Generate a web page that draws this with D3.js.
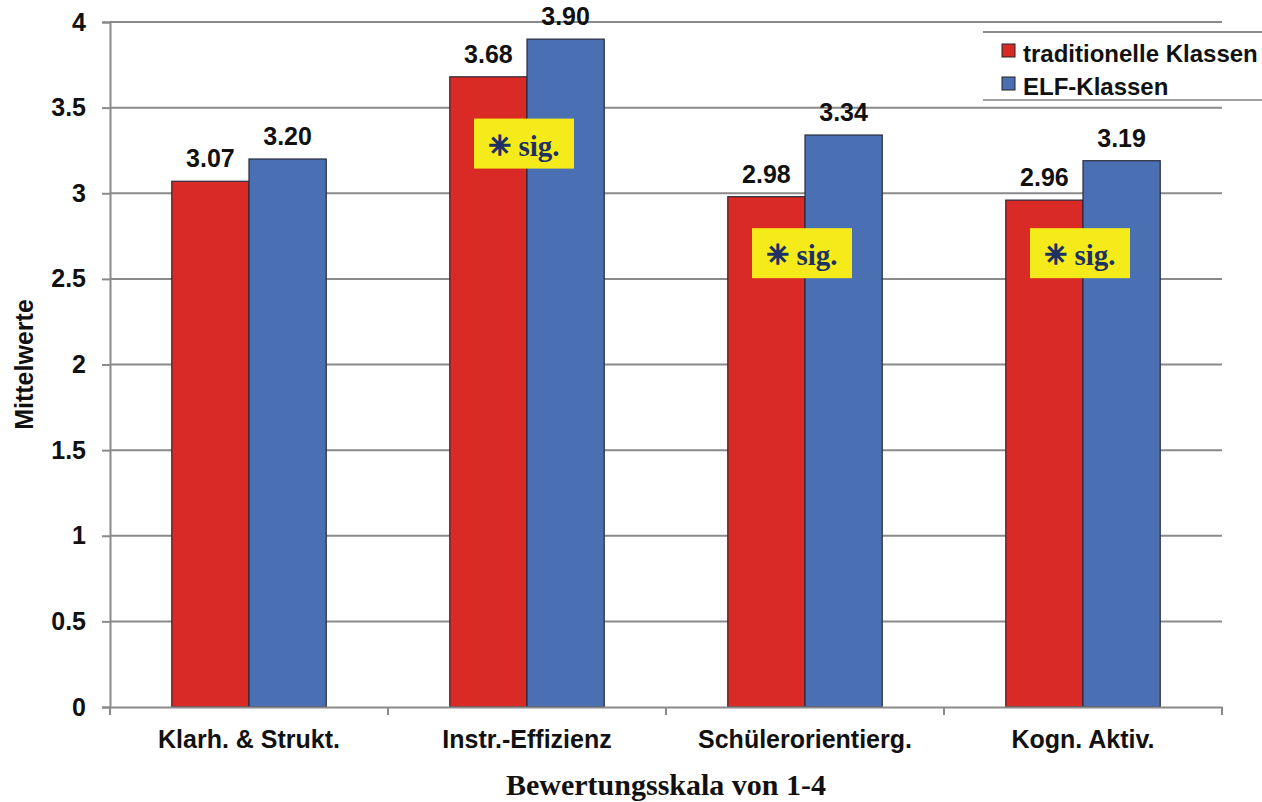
<!DOCTYPE html>
<html>
<head>
<meta charset="utf-8">
<script src="https://cdn.jsdelivr.net/npm/d3@7"></script>
<style>
  html, body { margin: 0; padding: 0; background: #fff; }
  svg { display: block; }
</style>
</head>
<body>
<svg id="chart" width="1262" height="802"></svg>
<script>
// Mean ratings per scale, two groups of classes
const categories = ["Klarh. & Strukt.", "Instr.-Effizienz", "Schülerorientierg.", "Kogn. Aktiv."];
const seriesNames = ["traditionelle Klassen", "ELF-Klassen"];
const traditionalValues = [3.07, 3.68, 2.98, 2.96];
const elfValues = [3.20, 3.90, 3.34, 3.19];
const significant = [false, true, true, true];
const yTicks = [0, 0.5, 1, 1.5, 2, 2.5, 3, 3.5, 4];
const colors = ["#d92a26", "#4a6fb3"];

const svg = d3.select("#chart");
const margin = { left: 110, right: 40, top: 22, bottom: 95 };
const W = 1262, H = 802;
const plotW = W - margin.left - margin.right; // 1112
const plotH = H - margin.top - margin.bottom; // 685

const x = d3.scaleBand().domain(categories).range([margin.left, margin.left + plotW]).paddingInner(0).paddingOuter(0);
const inner = d3.scaleBand().domain(seriesNames).range([0, x.bandwidth()]).paddingInner(0).paddingOuter(0.8);
const y = d3.scaleLinear().domain([0, 4]).range([margin.top + plotH, margin.top]);

const gridColor = "#8a8a8a";
const font = "'Liberation Sans', Arial, sans-serif";
const serif = "'Liberation Serif', 'Times New Roman', serif";

// horizontal gridlines
svg.append("g")
  .selectAll("line")
  .data(yTicks.filter(d => d > 0))
  .join("line")
  .attr("x1", margin.left).attr("x2", margin.left + plotW)
  .attr("y1", d => y(d)).attr("y2", d => y(d))
  .attr("stroke", gridColor).attr("stroke-width", 2);

// y axis
const yAxis = svg.append("g")
  .attr("transform", `translate(${margin.left},0)`)
  .call(d3.axisLeft(y).tickValues(yTicks).tickSize(8).tickPadding(16).tickFormat(d3.format("~g")));
yAxis.select(".domain").attr("stroke", gridColor).attr("stroke-width", 2);
yAxis.selectAll(".tick line").attr("stroke", gridColor).attr("stroke-width", 2);
yAxis.selectAll(".tick text")
  .attr("font-family", font).attr("font-weight", "bold").attr("font-size", 25).attr("fill", "#111");

// bars
const rows = categories.map((c, i) => ({ cat: c, vals: [traditionalValues[i], elfValues[i]] }));
const groups = svg.append("g").selectAll("g")
  .data(rows)
  .join("g")
  .attr("transform", d => `translate(${x(d.cat)},0)`);

groups.selectAll("rect")
  .data(d => d.vals.map((v, j) => ({ v, s: seriesNames[j], j })))
  .join("rect")
  .attr("x", d => inner(d.s))
  .attr("width", inner.bandwidth())
  .attr("y", d => y(d.v))
  .attr("height", d => y(0) - y(d.v))
  .attr("fill", d => colors[d.j])
  .attr("stroke", "#2a2a3a").attr("stroke-width", 1.2);

groups.selectAll("text.val")
  .data(d => d.vals.map((v, j) => ({ v, s: seriesNames[j], j })))
  .join("text")
  .attr("class", "val")
  .attr("x", d => inner(d.s) + inner.bandwidth() / 2)
  .attr("y", d => y(d.v) - 14)
  .attr("text-anchor", "middle")
  .attr("font-family", font).attr("font-weight", "bold").attr("font-size", 25).attr("fill", "#111")
  .text(d => d3.format(".2f")(d.v));

// x axis
const xAxis = svg.append("g")
  .attr("transform", `translate(0,${y(0)})`)
  .call(d3.axisBottom(x).tickSize(0).tickPadding(23));
xAxis.select(".domain").attr("stroke", gridColor).attr("stroke-width", 2);
xAxis.selectAll(".tick text")
  .attr("font-family", font).attr("font-weight", "bold").attr("font-size", 25).attr("fill", "#111");
// category boundary tick marks
svg.append("g").selectAll("line")
  .data(d3.range(categories.length + 1))
  .join("line")
  .attr("x1", i => margin.left + i * x.step()).attr("x2", i => margin.left + i * x.step())
  .attr("y1", y(0)).attr("y2", y(0) + 8)
  .attr("stroke", gridColor).attr("stroke-width", 2);

// significance markers
const sigLevel = i => (i === 1 ? 3.29 : 2.65);
const sig = svg.append("g").selectAll("g")
  .data(categories.map((c, i) => ({ c, i })).filter(d => significant[d.i]))
  .join("g")
  .attr("transform", d => `translate(${x(d.c) + x.bandwidth() / 2 - 3},${y(sigLevel(d.i))})`);
sig.append("rect")
  .attr("x", -50).attr("y", -25).attr("width", 100).attr("height", 50)
  .attr("fill", "#f5eb1b");
const sigText = sig.append("text")
  .attr("x", 0).attr("y", 12)
  .attr("text-anchor", "middle")
  .attr("font-family", serif)
  .attr("font-weight", "bold").attr("font-size", 29).attr("fill", "#1d3263");
sigText.append("tspan")
  .attr("font-family", "'DejaVu Sans', sans-serif").attr("font-size", 27).attr("dy", -1)
  .attr("stroke", "#1d3263").attr("stroke-width", 1.6)
  .text("✳");
sigText.append("tspan").attr("dy", 1).text(" sig.");

// legend
const legend = svg.append("g");
legend.append("rect").attr("x", 983).attr("y", 32).attr("width", 290).attr("height", 69).attr("fill", "#fff");
legend.append("line").attr("x1", 983).attr("x2", 1262).attr("y1", 32).attr("y2", 32).attr("stroke", gridColor).attr("stroke-width", 2);
legend.append("line").attr("x1", 983).attr("x2", 1262).attr("y1", 100).attr("y2", 100).attr("stroke", "#a0a0a0").attr("stroke-width", 2);
const li = legend.selectAll("g.item")
  .data(seriesNames)
  .join("g")
  .attr("class", "item")
  .attr("transform", (d, i) => `translate(1002,${62 + i * 33})`);
li.append("rect").attr("x", 0).attr("y", -18).attr("width", 13).attr("height", 13)
  .attr("fill", (d, i) => colors[i]).attr("stroke", "#222").attr("stroke-width", 1);
li.append("text").attr("x", 21).attr("y", 0)
  .attr("font-family", font).attr("font-weight", "bold").attr("font-size", 24).attr("fill", "#111")
  .text(d => d);

// axis titles
svg.append("text")
  .attr("transform", `translate(33,${margin.top + plotH / 2}) rotate(-90)`)
  .attr("text-anchor", "middle")
  .attr("font-family", font).attr("font-weight", "bold").attr("font-size", 25).attr("fill", "#111")
  .text("Mittelwerte");
svg.append("text")
  .attr("x", margin.left + plotW / 2).attr("y", 795)
  .attr("text-anchor", "middle")
  .attr("font-family", serif)
  .attr("font-weight", "bold").attr("font-size", 30).attr("fill", "#111")
  .text("Bewertungsskala von 1-4");
</script>
</body>
</html>
